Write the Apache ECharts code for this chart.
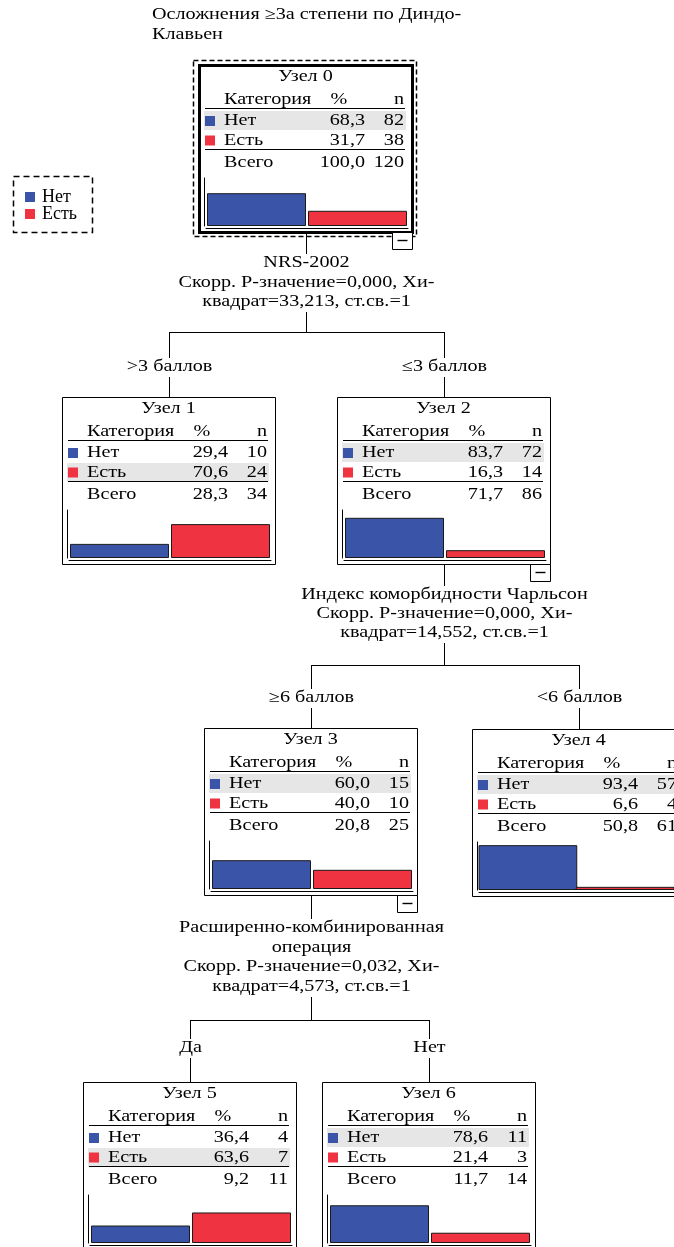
<!DOCTYPE html>
<html><head><meta charset="utf-8">
<script src="https://cdn.jsdelivr.net/npm/echarts@6/dist/echarts.min.js"></script>
<style>html,body{margin:0;padding:0;background:#fff}#c{width:674px;height:1247px}</style>
</head><body><div id="c"></div>
<script>
// ---------- data ----------
const titleLines = ['Осложнения ≥3а степени по Диндо-', 'Клавьен'];
const categories = ['Нет', 'Есть'];
const nodeNames = ['Узел 0', 'Узел 1', 'Узел 2', 'Узел 3', 'Узел 4', 'Узел 5', 'Узел 6'];
const pctNo  = [68.3, 29.4, 83.7, 60.0, 93.4, 36.4, 78.6];
const pctYes = [31.7, 70.6, 16.3, 40.0, 6.6, 63.6, 21.4];
const nNo  = [82, 10, 72, 15, 57, 4, 11];
const nYes = [38, 24, 14, 10, 4, 7, 3];
const pctTotal = [100.0, 28.3, 71.7, 20.8, 50.8, 9.2, 11.7];
const nTotal = [120, 34, 86, 25, 61, 11, 14];
const tableHeader = ['Категория', '%', 'n'];
const totalLabel = 'Всего';
const splitTexts = [
  ['NRS-2002', 'Скорр. P-значение=0,000, Хи-', 'квадрат=33,213, ст.св.=1'],
  ['Индекс коморбидности Чарльсон', 'Скорр. P-значение=0,000, Хи-', 'квадрат=14,552, ст.св.=1'],
  ['Расширенно-комбинированная', 'операция', 'Скорр. P-значение=0,032, Хи-', 'квадрат=4,573, ст.св.=1']
];
const branchLabels = [['>3 баллов', '≤3 баллов'], ['≥6 баллов', '<6 баллов'], ['Да', 'Нет']];

// ---------- layout & style ----------
const BLUE = '#3a55a8', RED = '#ef3340', SHADE = '#e6e6e6';
const FONT = '"Liberation Serif", "Times New Roman", serif';
const SX = 1.26, FS = 16;
const NW = 213, NH = 167;
const nodePos = [[199, 65], [62, 397], [337, 397], [204, 728], [472, 729], [83, 1082], [322, 1082]];
const expanded = [0, 2, 3];
const splits = [
  {parent: 0, kids: [1, 2], textY: [263, 283, 302], hY: 332, labY: 367},
  {parent: 2, kids: [3, 4], textY: [595, 614, 633], hY: 665, labY: 698},
  {parent: 3, kids: [5, 6], textY: [928, 948, 967, 987], hY: 1020, labY: 1048}
];

function fmt(v) { return v.toFixed(1).replace('.', ','); }
function txt(x, y, text, align) {
  return {type: 'text', x: x, y: y, scaleX: SX, silent: true, z: 10,
    style: {text: text, x: 0, y: 0, textAlign: align || 'left', textVerticalAlign: 'middle',
      fontSize: FS, fontFamily: FONT, fill: '#000'}};
}
function line(x1, y1, x2, y2, w, z) {
  return {type: 'line', silent: true, z: z || 5, shape: {x1: x1, y1: y1, x2: x2, y2: y2},
    style: {stroke: '#000', lineWidth: w || 1}};
}
function rect(x, y, w, h, style) {
  return {type: 'rect', silent: true, z: style.z || 1, shape: {x: x, y: y, width: w, height: h}, style: style};
}

const g = [];
// title
titleLines.forEach((t, i) => g.push(txt(152, 15 + i * 20, t, 'left')));
// legend frame
g.push(rect(13.5, 176.5, 79, 56, {fill: 'none', stroke: '#000', lineWidth: 1.5, lineDash: [6, 4]}));
// node 0 dashed selection frame
g.push(rect(193.5, 60.5, 223, 176, {fill: 'none', stroke: '#000', lineWidth: 1.5, lineDash: [5, 3]}));

nodePos.forEach((p, i) => {
  const L = p[0], T = p[1];
  const cx = L + NW / 2;
  g.push(rect(L + 0.5, T + 0.5, NW, NH, {fill: 'none', stroke: '#000', lineWidth: i === 0 ? 3 : 1}));
  g.push(txt(cx, T + 12, nodeNames[i], 'center'));
  g.push(txt(L + 25, T + 35, tableHeader[0], 'left'));
  g.push(txt(L + 140, T + 35, tableHeader[1], 'center'));
  g.push(txt(L + 205, T + 35, tableHeader[2], 'right'));
  g.push(line(L + 6, T + 43.5, L + 206, T + 43.5, 1.2));
  const maj = pctNo[i] >= pctYes[i] ? 0 : 1;
  g.push(rect(L + 5, T + 46 + maj * 20, 202, 19, {fill: SHADE, z: 0}));
  const pcts = [pctNo[i], pctYes[i]], ns = [nNo[i], nYes[i]], cols = [BLUE, RED];
  [0, 1].forEach(r => {
    const yy = T + 56 + r * 19.5;
    g.push(rect(L + 6, yy - 5, 10, 10, {fill: cols[r], z: 6}));
    g.push(txt(L + 25, yy, categories[r], 'left'));
    g.push(txt(L + 166, yy, fmt(pcts[r]), 'right'));
    g.push(txt(L + 205, yy, String(ns[r]), 'right'));
  });
  g.push(line(L + 6, T + 84.5, L + 206, T + 84.5, 1.2));
  g.push(txt(L + 25, T + 98, totalLabel, 'left'));
  g.push(txt(L + 166, T + 98, fmt(pctTotal[i]), 'right'));
  g.push(txt(L + 205, T + 98, String(nTotal[i]), 'right'));
  if (expanded.indexOf(i) >= 0) {
    const bx = L + NW - 20 + 0.5, by = T + NH + 0.5;
    g.push(rect(bx, by, 20, 17, {fill: '#fff', stroke: '#000', lineWidth: 1, z: 6}));
    g.push(line(bx + 5, by + 8, bx + 15, by + 8, 1.4, 8));
  }
});

splits.forEach((s, k) => {
  const pL = nodePos[s.parent][0], pT = nodePos[s.parent][1];
  const px = Math.round(pL + NW / 2) + 0.5;
  g.push(line(px, pT + NH + 1, px, s.textY[0] - 9));
  s.textY.forEach((y, j) => g.push(txt(px, y, splitTexts[k][j], 'center')));
  g.push(line(px, s.textY[s.textY.length - 1] + 10, px, s.hY));
  const kx = s.kids.map(c => Math.round(nodePos[c][0] + NW / 2) + 0.5);
  g.push(line(kx[0], s.hY + 0.5, kx[1], s.hY + 0.5));
  s.kids.forEach((c, j) => {
    g.push(line(kx[j], s.hY, kx[j], s.labY - 9));
    g.push(txt(kx[j], s.labY, branchLabels[k][j], 'center'));
    g.push(line(kx[j], s.labY + 10, kx[j], nodePos[c][1]));
  });
});

// ---------- bar grids ----------
const grids = [], xAxes = [], yAxes = [], series = [];
nodePos.forEach((p, i) => {
  const L = p[0], T = p[1];
  grids.push({left: L + 7, top: T + 113, width: 202, height: 48});
  xAxes.push({type: 'category', gridIndex: i, data: categories, offset: 2,
    axisLine: {show: true, onZero: false, lineStyle: {color: '#000', width: 1}},
    axisTick: {show: false}, axisLabel: {show: false}, splitLine: {show: false}});
  yAxes.push({type: 'value', gridIndex: i, min: 0, max: 100, offset: 2,
    axisLine: {show: true, lineStyle: {color: '#000', width: 1}},
    axisTick: {show: false}, axisLabel: {show: false}, splitLine: {show: false}});
  series.push({type: 'bar', name: categories[0], xAxisIndex: i, yAxisIndex: i, barWidth: 99, barGap: '-100%',
    data: [pctNo[i], '-'], itemStyle: {color: BLUE, borderColor: '#1a1a1a', borderWidth: 1}, silent: true});
  series.push({type: 'bar', name: categories[1], xAxisIndex: i, yAxisIndex: i, barWidth: 99, barGap: '-100%',
    data: ['-', pctYes[i]], itemStyle: {color: RED, borderColor: '#1a1a1a', borderWidth: 1}, silent: true});
});

const chart = echarts.init(document.getElementById('c'), null, {renderer: 'canvas'});
chart.setOption({
  animation: false,
  backgroundColor: '#fff',
  legend: {orient: 'vertical', left: 25, top: 188, itemWidth: 10, itemHeight: 10, itemGap: -1, icon: 'rect',
    padding: 0,
    data: categories, selectedMode: false,
    itemStyle: {borderWidth: 0},
    textStyle: {fontFamily: FONT, fontSize: 18, color: '#000', padding: [0, 0, 0, 2]}},
  grid: grids, xAxis: xAxes, yAxis: yAxes, series: series,
  graphic: {elements: g}
});
</script></body></html>
